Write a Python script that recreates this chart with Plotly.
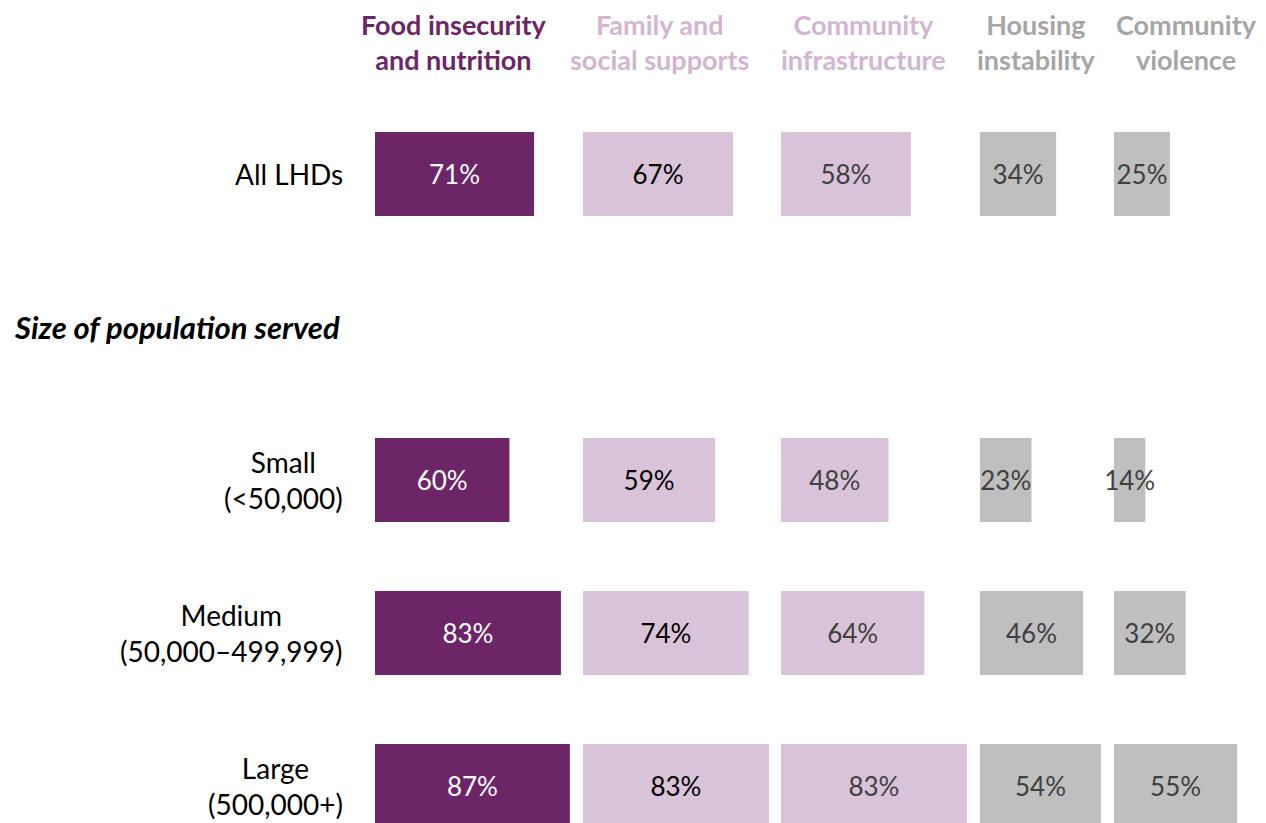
"""Share of LHDs addressing social determinants, by size of population served."""

import plotly.graph_objects as go


# ===== Data =====
ROWS = ["All LHDs", "Size of population served", "Small", "Medium", "Large"]
ROW_LABELS = {
    "All LHDs": "All LHDs",
    "Small": "Small<br>(&lt;50,000)",
    "Medium": "Medium<br>(50,000–499,999)",
    "Large": "Large<br>(500,000+)",
}
BAR_ROWS = ["All LHDs", "Small", "Medium", "Large"]

TOPICS = [
    "Food insecurity<br>and nutrition",
    "Family and<br>social supports",
    "Community<br>infrastructure",
    "Housing<br>instability",
    "Community<br>violence",
]

food = [71, 60, 83, 87]
family = [67, 59, 74, 83]
infrastructure = [58, 48, 64, 83]
housing = [34, 23, 46, 54]
violence = [25, 14, 32, 55]
values = [food, family, infrastructure, housing, violence]

# ===== Styling =====
W, H = 1266, 823
OFF = 8  # page body margin: the figure is drawn 8px in from the top-left
FONT = "Lato"
PURPLE = "#6C2668"
LILAC = "#D8C3D8"
GREY = "#BFBFBF"
bar_colors = [PURPLE, LILAC, LILAC, GREY, GREY]
text_colors = ["white", "black", "#404040", "#404040", "#404040"]
header_colors = [PURPLE, "#D3B5D1", "#D3B5D1", "#A6A6A6", "#A6A6A6"]

# column layout in screen pixels (start of each panel) and px per percentage point
col_starts = [375, 583, 781, 980, 1114, W]
header_x = [454, 660, 864, 1036, 1186]
PX_PER_PCT = 2.24


def px_x(px):
    return (px - OFF) / W


def px_y(px):
    return 1 - (px - OFF) / H


fig = go.Figure()

for i, (vals, topic) in enumerate(zip(values, TOPICS)):
    axis_id = "" if i == 0 else str(i + 1)
    fig.add_trace(go.Bar(
        x=vals,
        y=BAR_ROWS,
        orientation="h",
        width=0.55,
        marker={"color": bar_colors[i], "line": {"width": 0}},
        text=[f"{v}%" for v in vals],
        textposition="inside",
        insidetextanchor="middle",
        textangle=0,
        constraintext="none",
        textfont={"family": FONT, "size": 26, "color": text_colors[i]},
        cliponaxis=False,
        hoverinfo="skip",
        xaxis="x" + axis_id,
        yaxis="y",
        showlegend=False,
    ))

    start, end = col_starts[i], col_starts[i + 1]
    fig.update_layout({
        "xaxis" + axis_id: {
            "domain": [px_x(start), min(px_x(end), 1)],
            "range": [0, (min(end - OFF, W) - (start - OFF)) / PX_PER_PCT],
            "visible": False,
            "fixedrange": True,
            "anchor": "y",
        }
    })

    fig.add_annotation(
        text=f"<b>{topic}</b>",
        x=px_x(header_x[i]), y=px_y(42),
        xref="paper", yref="paper",
        xanchor="center", yanchor="middle",
        showarrow=False,
        font={"family": FONT, "size": 27, "color": header_colors[i]},
    )

# row labels
for row in BAR_ROWS:
    fig.add_annotation(
        text=ROW_LABELS[row],
        x=px_x(345), y=row,
        xref="paper", yref="y",
        xanchor="right", yanchor="middle", align="center",
        showarrow=False,
        font={"family": FONT, "size": 28, "color": "black"},
    )

fig.add_annotation(
    text="<b><i>Size of population served</i></b>",
    x=px_x(12), y=ROWS[1],
    xref="paper", yref="y",
    xanchor="left", yanchor="middle",
    showarrow=False,
    font={"family": FONT, "size": 31, "color": "black"},
)

# rows are 153px apart; first row centred 174px from the top of the screen
first = 174 - OFF
top = -first / 153
bottom = (H - first) / 153

fig.update_layout(
    width=W,
    height=H,
    autosize=False,
    margin={"t": 0, "r": 0, "b": 0, "l": 0},
    paper_bgcolor="white",
    plot_bgcolor="white",
    yaxis={
        "type": "category",
        "categoryorder": "array",
        "categoryarray": ROWS,
        "range": [bottom, top],
        "visible": False,
        "fixedrange": True,
        "domain": [0, 1],
    },
    font={"family": FONT},
)

fig.write_html("out.html", config={"displayModeBar": False})
